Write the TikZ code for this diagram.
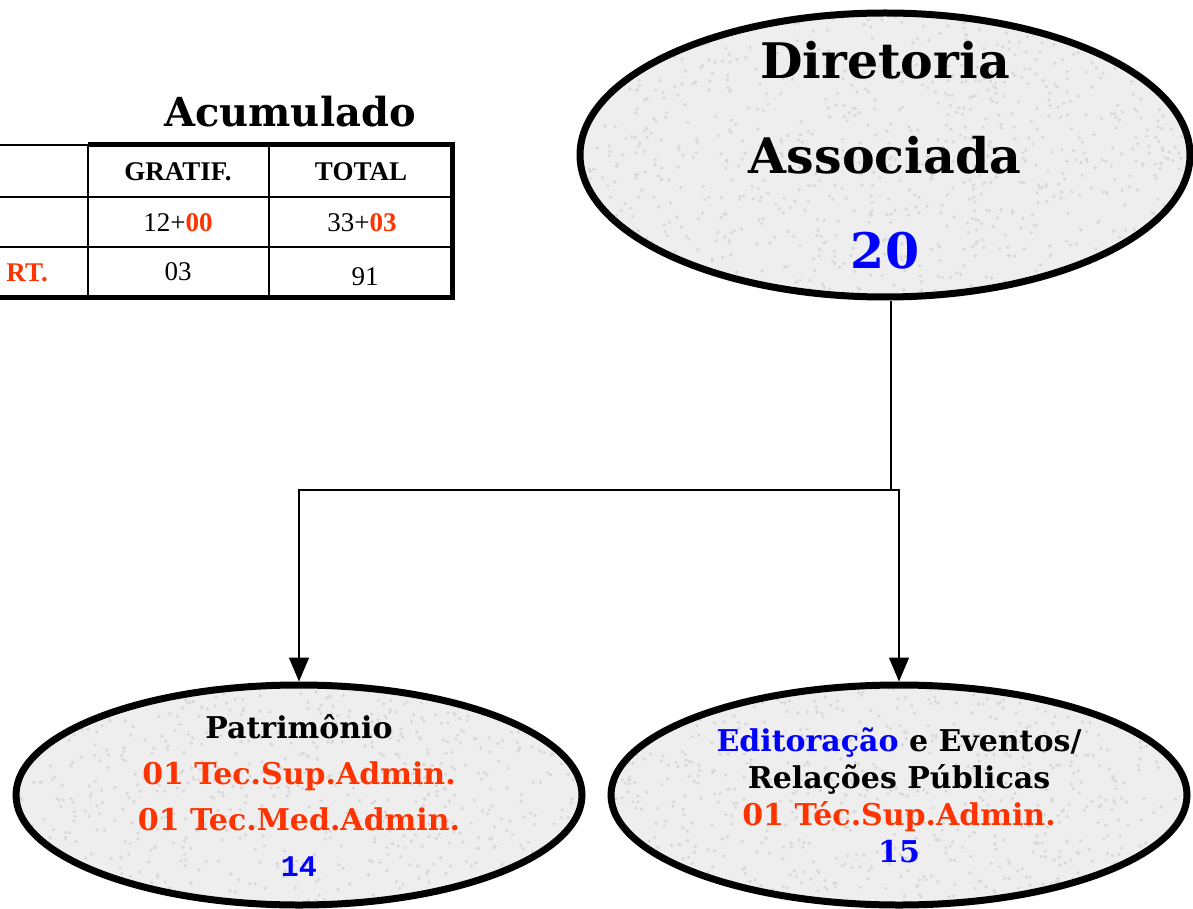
\documentclass[tikz,border=0pt]{standalone}
\usepackage{fontspec}
\setmainfont{Liberation Serif}
\newfontfamily\bookfont{DejaVu Serif}
\newfontfamily\courfont{Liberation Mono}
\usetikzlibrary{shapes.geometric,arrows.meta}
\definecolor{laranja}{RGB}{255,51,0}
\definecolor{azul}{RGB}{0,0,255}

\begin{document}
\begin{tikzpicture}[x=1pt,y=-1pt,
  bolha/.style={ellipse,draw,line width=7pt,fill=gray!13,inner xsep=0pt,inner ysep=-60pt,align=center,
    path picture={\foreach \k in {1,...,1100}
      \fill[gray!30] (path picture bounding box.center) ++({(rnd-0.5)*620},{(rnd-0.5)*300}) circle (1.8pt);}},
  liga/.style={line width=1.4pt},
  seta/.style={liga,-{Triangle[width=20pt,length=24pt]}},
  grade/.style={line width=2.5pt},
  borda/.style={line width=5pt},
  celula/.style={font=\fontsize{27}{27}\selectfont,inner sep=0pt}]
\useasboundingbox (0,0) rectangle (1193,909);

% tabela
\node[font=\bookfont\bfseries\fontsize{40}{40}\selectfont] (acum) at (290,112) {Acumulado};
\draw[grade] (0,145) -- (88,145);
\draw[grade] (0,197) -- (452,197);
\draw[grade] (0,247) -- (452,247);
\draw[grade] (88,145) -- (88,297);
\draw[grade] (269,145) -- (269,297);
\draw[borda] (88,145) -- (452,145) -- (452,297) -- (0,297);
\node[celula,font=\bfseries\fontsize{27}{27}\selectfont] (gratif) at (178,172) {GRATIF.};
\node[celula,font=\bfseries\fontsize{27}{27}\selectfont] (total) at (361,172) {TOTAL};
\node[celula] (g1) at (178,223) {12+\textcolor{laranja}{\bfseries 00}};
\node[celula] (t1) at (362,223) {33+\textcolor{laranja}{\bfseries 03}};
\node[celula,anchor=east,font=\bfseries\fontsize{27}{27}\selectfont,text=laranja] (port) at (48,273) {RT.};
\node[celula] (g2) at (178,272) {03};
\node[celula] (t2) at (365,277) {91};

% organograma
\node[bolha,minimum width=610pt,minimum height=284pt,
  font=\bookfont\bfseries\fontsize{49}{95}\selectfont] (dir) at (885,155)
  {Diretoria\\Associada\\\textcolor{azul}{20}};
\node[bolha,minimum width=566pt,minimum height=220pt,
  font=\bookfont\bfseries\fontsize{30}{46}\selectfont] (pat) at (299,795)
  {Patrimônio\\\textcolor{laranja}{01 Tec.Sup.Admin.}\\\textcolor{laranja}{01 Tec.Med.Admin.}\\{\courfont\textcolor{azul}{14}}};
\node[bolha,minimum width=576pt,minimum height=220pt,
  font=\bookfont\bfseries\fontsize{30}{37}\selectfont] (edi) at (899,795)
  {\textcolor{azul}{Editoração} e Eventos/\\Relações Públicas\\\textcolor{laranja}{01 Téc.Sup.Admin.}\\\textcolor{azul}{15}};

\coordinate (j) at (891,490);
\draw[liga] (dir.south -| j) -- (j);
\draw[seta] (j) -| (pat);
\draw[seta] (j) -| (edi);
\end{tikzpicture}
\end{document}
